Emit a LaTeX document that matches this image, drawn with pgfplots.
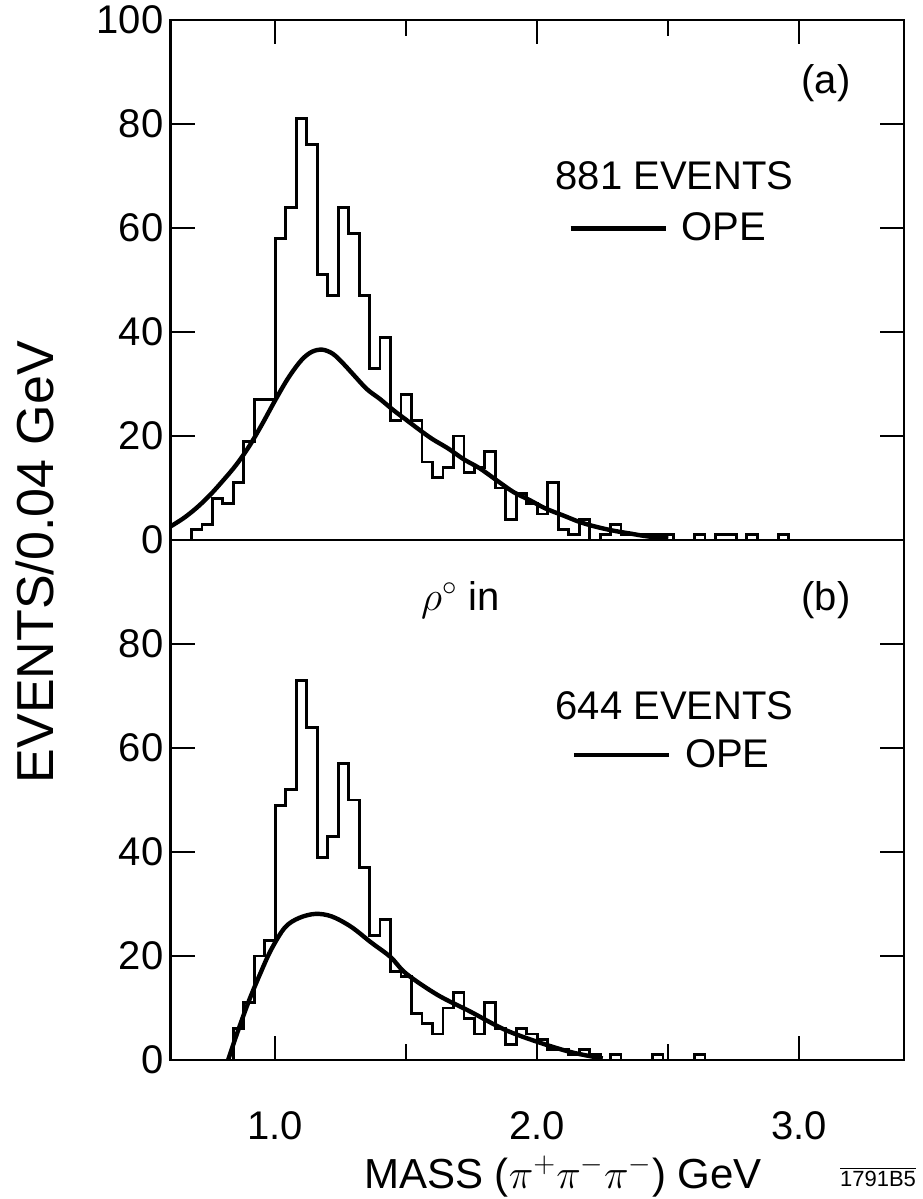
\documentclass[border=0pt]{standalone}
\usepackage{fontspec}
\setmainfont{Liberation Sans}
\usepackage{pgfplots}
\pgfplotsset{compat=1.18}

\newcommand{\lab}{\fontsize{20}{24}\selectfont}

\pgfplotsset{
  hist/.style={const plot, line width=1.4pt, black, mark=none},
  ope/.style={smooth, tension=0.55, line width=2.2pt, black, mark=none},
  panel/.style={
    scale only axis, width=366.75pt, height=260pt,
    xmin=0.6, xmax=3.4, ymin=0, ymax=100,
    clip=false, tick align=inside,
    axis line style={line width=1.3pt},
    every tick/.style={black, line width=1.2pt},
    xtick={1,2,3}, minor xtick={1.5,2.5},
    major tick length=12pt, minor tick length=8pt,
    tick label style={font=\lab},
    legend image code/.code={\draw[line width=2.2pt] (0pt,0pt) -- (47.5pt,0pt);},
  },
}

\begin{document}
\begin{tikzpicture}
\path[use as bounding box] (0,0) rectangle (461pt,-599.5pt);

% ---------------- panel (a): all events ----------------
\begin{axis}[panel, at={(85.25pt,-270pt)}, anchor=south west,
  xtick pos=right, xticklabels={},
  ytick={0,20,40,60,80,100}, yticklabels={0,20,40,60,80,100},
  legend style={at={(axis description cs:0.5418,0.599)}, anchor=west,
    draw=none, fill=none, inner sep=0pt, font=\lab,
    /tikz/every odd column/.append style={column sep=5pt}}]
\addplot[hist, forget plot] coordinates {
 (0.68,0) (0.68,2) (0.72,3) (0.76,8) (0.80,7) (0.84,11) (0.88,19) (0.92,27)
 (0.96,27) (1.00,58) (1.04,64) (1.08,81) (1.12,76) (1.16,51) (1.20,47)
 (1.24,64) (1.28,59) (1.32,47) (1.36,33) (1.40,39) (1.44,23) (1.48,28)
 (1.52,23) (1.56,15) (1.60,12) (1.64,14) (1.68,20) (1.72,13) (1.76,14)
 (1.80,17) (1.84,10) (1.88,4) (1.92,9) (1.96,7) (2.00,5) (2.04,11)
 (2.08,2) (2.12,1) (2.16,4) (2.20,0) (2.24,1) (2.28,3) (2.32,1) (2.36,1)
 (2.40,1) (2.44,1) (2.48,1) (2.52,0) (2.56,0) (2.60,1) (2.64,0) (2.68,1)
 (2.72,1) (2.76,0) (2.80,1) (2.84,0) (2.88,0) (2.92,1) (2.96,0)
};
\addplot[ope] coordinates {
 (0.60,2.6) (0.65,4.2) (0.70,6.2) (0.75,8.6) (0.80,11.4) (0.85,14.4)
 (0.90,18.0) (0.95,22.3) (1.00,26.9) (1.05,31.2) (1.10,34.6) (1.14,36.2)
 (1.18,36.6) (1.22,35.8) (1.26,33.9) (1.30,31.7) (1.35,29.0) (1.40,27.1)
 (1.45,25.0) (1.50,23.1) (1.55,21.2) (1.60,19.4) (1.66,17.6) (1.72,15.5)
 (1.78,13.8) (1.85,11.3) (1.91,9.2) (1.97,7.7) (2.03,6.1) (2.10,4.7)
 (2.16,3.5) (2.22,2.6) (2.29,1.8) (2.36,1.2) (2.42,0.7) (2.50,0.3)
};
\addlegendentry{OPE}
\node[font=\lab] at (axis cs:3.102,87.8) {(a)};
\node[font=\lab] at (axis cs:2.524,70.1) {881 EVENTS};
\end{axis}

% ---------------- panel (b): rho0 in ----------------
\begin{axis}[panel, at={(85.25pt,-530pt)}, anchor=south west,
  xtick pos=left, xticklabels={1.0,2.0,3.0},
  xticklabel style={yshift=-22pt},
  ytick={0,20,40,60,80}, yticklabels={0,20,40,60,80},
  legend style={at={(axis description cs:0.5464,0.586)}, anchor=west,
    draw=none, fill=none, inner sep=0pt, font=\lab,
    /tikz/every odd column/.append style={column sep=5pt}}]
\addplot[hist, forget plot] coordinates {
 (0.84,0) (0.84,6) (0.88,11) (0.92,20) (0.96,23) (1.00,49) (1.04,52)
 (1.08,73) (1.12,64) (1.16,39) (1.20,43) (1.24,57) (1.28,50) (1.32,37)
 (1.36,24) (1.40,27) (1.44,17) (1.48,16) (1.52,9) (1.56,7) (1.60,5)
 (1.64,10) (1.68,13) (1.72,8) (1.76,5) (1.80,11) (1.84,6) (1.88,3)
 (1.92,6) (1.96,5) (2.00,4) (2.04,2) (2.08,2) (2.12,1) (2.16,2) (2.20,1)
 (2.24,0) (2.28,1) (2.32,0) (2.36,0) (2.40,0) (2.44,1) (2.48,0) (2.52,0)
 (2.56,0) (2.60,1) (2.64,0)
};
\addplot[ope] coordinates {
 (0.82,0) (0.852,4.8) (0.898,11.2) (0.945,16.9) (0.985,21.3) (1.037,25.5)
 (1.09,27.3) (1.153,28.1) (1.216,27.6) (1.29,25.6) (1.366,22.6) (1.44,19.8)
 (1.50,16.6) (1.62,12.5) (1.745,9.3) (1.873,5.9) (2.00,3.5) (2.13,1.5)
 (2.25,0.3)
};
\addlegendentry{OPE}
\node[font=\lab] at (axis cs:1.707,88.4) {$\rho^{\circ}$ in};
\node[font=\lab] at (axis cs:3.102,88.4) {(b)};
\node[font=\lab] at (axis cs:2.524,68.2) {644 EVENTS};
\end{axis}

% shared axis titles and figure number
\node[rotate=90, font=\fontsize{26}{30}\selectfont] at (17.5pt,-281pt) {EVENTS/0.04 GeV};
\node[font=\fontsize{21}{25}\selectfont, anchor=base] at (281.5pt,-594pt)
  {MASS ($\pi^{+}\pi^{-}\pi^{-}$) GeV};
\node[font=\fontsize{11}{13}\selectfont] at (439pt,-588.5pt) {$\overline{\hbox{1791B5}}$};
\end{tikzpicture}
\end{document}
